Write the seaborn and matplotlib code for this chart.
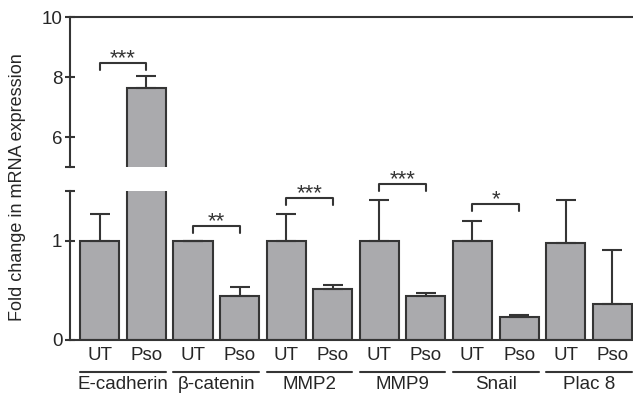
import numpy as np
import pandas as pd
import matplotlib
matplotlib.use('Agg')
import matplotlib.pyplot as plt
import matplotlib.transforms as mtrans
import seaborn as sns

sns.set_style('white')
plt.rcParams['font.family'] = ['Liberation Sans', 'DejaVu Sans']

# data
genes = ["E-cadherin", "β-catenin", "MMP2", "MMP9", "Snail", "Plac 8"]
treatments = ["UT", "Pso"]
ut_mean = [1.0, 1.0, 1.0, 1.0, 1.0, 0.98]
ut_err = [0.27, 0.0, 0.27, 0.41, 0.20, 0.43]
pso_mean = [7.63, 0.44, 0.51, 0.44, 0.23, 0.36]
pso_err = [0.40, 0.09, 0.04, 0.035, 0.025, 0.55]

# significance brackets
sig_genes = [0, 1, 2, 3, 4]
sig_stars = ["***", "**", "***", "***", "*"]
sig_y = [8.48, 1.15, 1.43, 1.57, 1.37]

df = pd.DataFrame({
    "gene": genes * 2,
    "treatment": ["UT"] * len(genes) + ["Pso"] * len(genes),
    "value": ut_mean + pso_mean,
    "err": ut_err + pso_err,
})

bar_face = '#a9aaad'
dark = '#353535'
fs = 13.5

fig = plt.figure(figsize=(6.33, 3.93), dpi=100)
ax_top = fig.add_axes([0.1106, 0.575, 0.889, 0.3817])
ax_bot = fig.add_axes([0.1106, 0.1349, 0.889, 0.379])

for ax in (ax_top, ax_bot):
    sns.barplot(data=df, x='gene', y='value', hue='treatment', order=genes,
                hue_order=treatments, palette=[bar_face, bar_face], width=1.0,
                gap=0.16, edgecolor=dark, linewidth=1.5, errorbar=None,
                legend=False, ax=ax)
    for i, t in enumerate(treatments):
        sub = df[df.treatment == t]
        xs = np.arange(len(genes)) + (-0.25 if i == 0 else 0.25)
        ax.errorbar(xs, sub.value, yerr=[np.zeros(len(sub)), sub.err], fmt='none',
                    ecolor=dark, elinewidth=1.5, capsize=7, capthick=1.5, zorder=3)
    ax.set_xlim(-0.57, 5.47)
    ax.set_xlabel('')
    ax.set_ylabel('')
    ax.tick_params(axis='y', left=True, direction='inout', length=7, width=1.5,
                   color=dark, labelsize=fs, pad=2)
    for s in ax.spines.values():
        s.set_linewidth(1.5)
        s.set_color(dark)
    ax.spines['right'].set_visible(False)

ax_top.spines['bottom'].set_visible(False)
ax_bot.spines['top'].set_visible(False)

ax_top.set_ylim(5, 10)
ax_top.set_yticks([5, 6, 8, 10])
ax_top.set_yticklabels(['', '6', '8', '10'])
ax_top.set_xticks([])

ax_bot.set_ylim(0, 1.5)
ax_bot.set_yticks([0, 1, 1.5])
ax_bot.set_yticklabels(['0', '1', ''])
pos = []
labs = []
for i in range(len(genes)):
    pos += [i - 0.25, i + 0.25]
    labs += treatments
ax_bot.set_xticks(pos)
ax_bot.set_xticklabels(labs)
ax_bot.tick_params(axis='x', length=0, pad=5, labelsize=fs)

# brackets with stars
for g, stars, y in zip(sig_genes, sig_stars, sig_y):
    ax = ax_top if y > 5 else ax_bot
    drop = 0.26 if ax is ax_top else 0.07
    x0, x1 = g - 0.25, g + 0.25
    ax.plot([x0, x0, x1, x1], [y - drop, y, y, y - drop], color=dark, lw=1.5,
            clip_on=False)
    ax.annotate(stars, xy=(g, y), xytext=(0, -1), textcoords='offset points',
                ha='center', va='baseline', fontsize=16, color=dark,
                annotation_clip=False)

# group lines and labels under the axis
trans = mtrans.blended_transform_factory(ax_bot.transData, fig.transFigure)
for i, g in enumerate(genes):
    ax_bot.plot([i - 0.46, i + 0.46], [0.0534, 0.0534], transform=trans,
                color=dark, lw=1.5, clip_on=False)
    ax_bot.text(i, 0.021, g, transform=trans, ha='center', va='center', fontsize=fs)

fig.text(0.027, 0.524, 'Fold change in mRNA expression', rotation=90,
         ha='center', va='center', fontsize=13)

fig.savefig('out.png', dpi=100)
